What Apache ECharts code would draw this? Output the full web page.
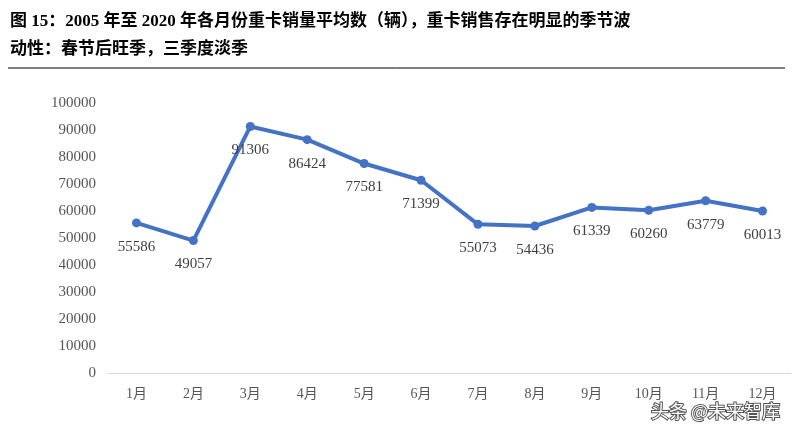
<!DOCTYPE html>
<html><head><meta charset="utf-8">
<script src="https://cdn.jsdelivr.net/npm/echarts@6/dist/echarts.min.js"></script>
<style>body{margin:0;background:#fff}#c{width:793px;height:429px}</style>
</head><body><div id="c"></div>
<script>
const categories=['1月','2月','3月','4月','5月','6月','7月','8月','9月','10月','11月','12月'];
const values=[55586,49057,91306,86424,77581,71399,55073,54436,61339,60260,63779,60013];
const titleLines=['图 15：2005 年至 2020 年各月份重卡销量平均数（辆），重卡销售存在明显的季节波','动性：春节后旺季，三季度淡季'];
const font="'Liberation Serif','Noto Sans CJK SC',serif";
const chart=echarts.init(document.getElementById('c'));
chart.setOption({
  animation:false,
  graphic:[
    {type:'text',left:10,top:8,style:{text:titleLines.join('\n'),font:"bold 17px 'Liberation Serif','Noto Sans CJK SC'",lineHeight:28,fill:'#000'}},
    {type:'line',shape:{x1:8,y1:68,x2:785,y2:68},style:{stroke:'#000',lineWidth:1}},
    {type:'text',right:12,bottom:8,style:{text:'头条 @未来智库',font:"18px 'Noto Sans CJK SC'",fill:'#fff',stroke:'#555',lineWidth:2}}
  ],
  grid:{left:108,right:2,top:103,bottom:56},
  xAxis:{type:'category',data:categories,boundaryGap:true,
    axisLine:{lineStyle:{color:'#d9d9d9'}},axisTick:{show:false},
    axisLabel:{color:'#555',fontFamily:font,fontSize:14,margin:14}},
  yAxis:{type:'value',min:0,max:100000,interval:10000,
    axisLine:{show:false},axisTick:{show:false},splitLine:{show:false},
    axisLabel:{color:'#555',fontFamily:font,fontSize:15,margin:12,formatter:v=>String(v)}},
  series:[{type:'line',data:values,symbol:'circle',symbolSize:9,
    lineStyle:{color:'#4472C4',width:4},itemStyle:{color:'#4472C4'},
    label:{show:true,position:'bottom',distance:12,color:'#404040',fontFamily:font,fontSize:15}}]
});
</script></body></html>
